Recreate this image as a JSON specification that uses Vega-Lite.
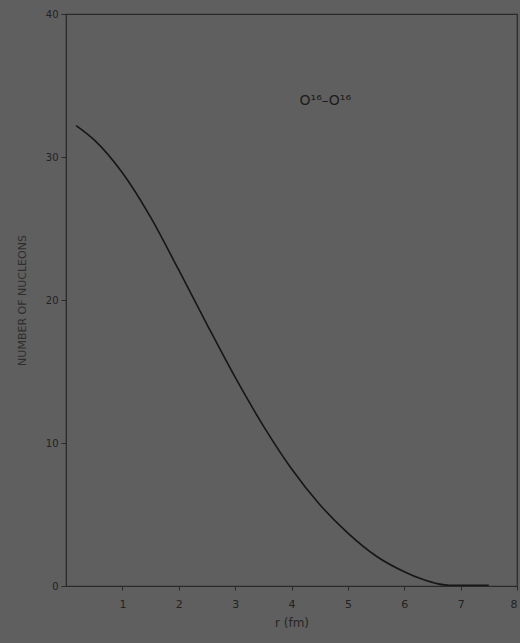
{
  "$schema": "https://vega.github.io/schema/vega-lite/v6.json",
  "width": 451,
  "height": 572,
  "autosize": {"type": "none"},
  "padding": {"left": 66, "top": 14, "right": 3, "bottom": 57},
  "background": "#5f5f5f",
  "config": {
    "view": {"stroke": "#2a2a2a", "strokeWidth": 1.2},
    "font": "DejaVu Sans"
  },
  "layer": [
    {
      "data": {"values": [
        {"r": 0.18, "n": 32.2},
        {"r": 0.5, "n": 31.2},
        {"r": 1.0, "n": 28.9},
        {"r": 1.5, "n": 25.8},
        {"r": 2.0, "n": 22.1},
        {"r": 2.5, "n": 18.3},
        {"r": 3.0, "n": 14.6},
        {"r": 3.5, "n": 11.2},
        {"r": 4.0, "n": 8.2},
        {"r": 4.5, "n": 5.7},
        {"r": 5.0, "n": 3.7},
        {"r": 5.5, "n": 2.1},
        {"r": 6.0, "n": 1.0},
        {"r": 6.3, "n": 0.5},
        {"r": 6.6, "n": 0.15},
        {"r": 6.8, "n": 0.05},
        {"r": 7.5, "n": 0.05}
      ]},
      "mark": {"type": "line", "color": "#161616", "strokeWidth": 1.6, "interpolate": "monotone"},
      "encoding": {
        "x": {"field": "r", "type": "quantitative",
          "scale": {"domain": [0, 8], "nice": false},
          "axis": {"title": "r (fm)", "values": [1,2,3,4,5,6,7,8], "format": "d", "grid": false,
            "labelAlign": {"expr": "datum.value >= 8 ? 'right' : 'center'"},
            "domainColor": "#2a2a2a", "tickColor": "#2a2a2a", "tickSize": 4,
            "labelColor": "#222222", "labelFontSize": 11, "labelPadding": 8,
            "titleColor": "#262626", "titleFontSize": 12, "titleFontWeight": "normal", "titlePadding": 8}},
        "y": {"field": "n", "type": "quantitative",
          "scale": {"domain": [0, 40], "nice": false},
          "axis": {"title": "NUMBER OF NUCLEONS", "values": [0,10,20,30,40], "format": "d", "grid": false,
            "domainColor": "#2a2a2a", "tickColor": "#2a2a2a", "tickSize": 5,
            "labelColor": "#222222", "labelFontSize": 10, "labelPadding": 3,
            "titleColor": "#2e2e2e", "titleFontSize": 11, "titleFontWeight": "normal", "titlePadding": 18}}
      }
    },
    {
      "data": {"values": [{"r": 4.6, "n": 33.9, "label": "O¹⁶–O¹⁶"}]},
      "mark": {"type": "text", "color": "#1c1c1c", "fontSize": 14, "align": "center"},
      "encoding": {
        "x": {"field": "r", "type": "quantitative"},
        "y": {"field": "n", "type": "quantitative"},
        "text": {"field": "label"}
      }
    }
  ]
}
